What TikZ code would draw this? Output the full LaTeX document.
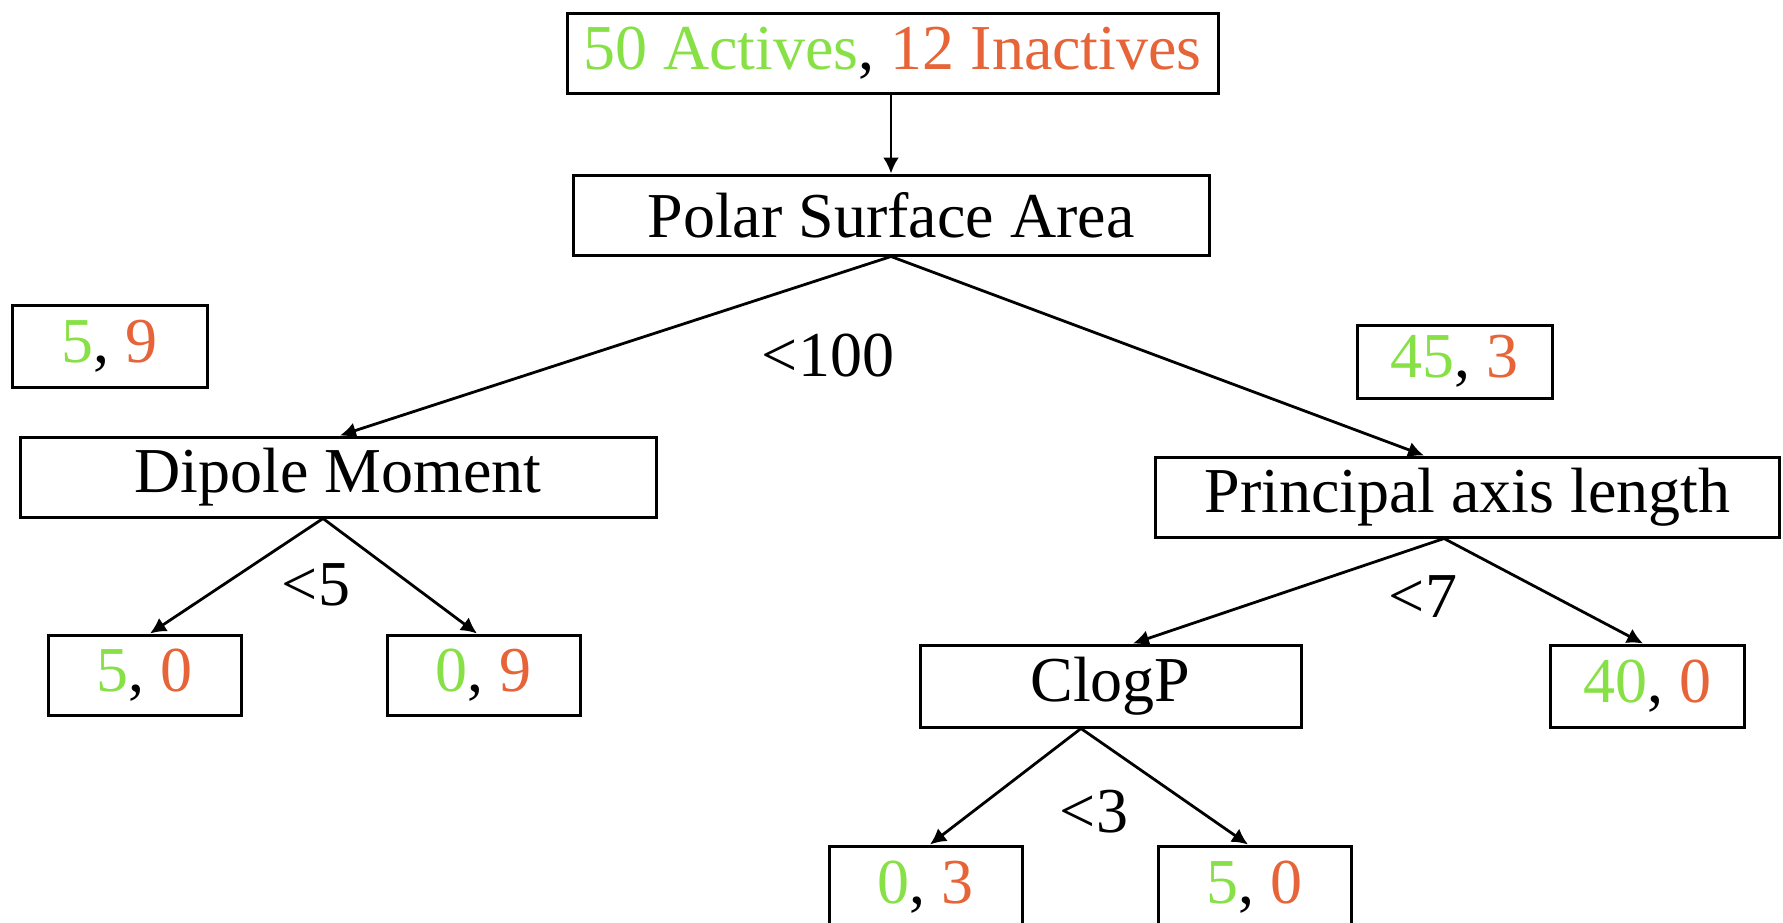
\documentclass[tikz,border=0pt]{standalone}
\usepackage{fontspec}
\setmainfont{Liberation Serif}
\usetikzlibrary{arrows.meta,calc}
\definecolor{grn}{RGB}{135,225,70}
\definecolor{org}{RGB}{230,100,55}
\tikzset{
  box/.style={draw=black,line width=1.5pt,rectangle,inner sep=0pt,font=\fontsize{32}{36}\selectfont},
  conn/.style={line width=1.4pt,-{Latex[length=8pt,width=8pt]}},
  cond/.style={font=\fontsize{32}{36}\selectfont,inner sep=0pt}
}
\newcommand{\gr}[1]{\textcolor{grn}{#1}}
\newcommand{\og}[1]{\textcolor{org}{#1}}
\begin{document}
\begin{tikzpicture}[x=0.5pt,y=-0.5pt]
\clip (0,0) rectangle (1783,922);
\fill[white] (0,0) rectangle (1783,922);
\node[box,minimum width=325.5pt,minimum height=40pt] (top) at (892.5,53) {\gr{50 Actives}, \og{12 Inactives}};
\node[box,minimum width=318pt,minimum height=40pt] (psa) at (891,215) {Polar Surface Area};
\node[box,minimum width=97.5pt,minimum height=41pt] (n59) at (109.5,346) {\gr{5}, \og{9}};
\node[box,minimum width=97.5pt,minimum height=36.5pt] (n453) at (1454.5,361.5) {\gr{45}, \og{3}};
\node[box,minimum width=318pt,minimum height=40pt] (dip) at (338,477) {Dipole Moment};
\node[box,minimum width=312pt,minimum height=40pt] (pal) at (1467.5,497) {Principal axis length};
\node[box,minimum width=96.5pt,minimum height=40pt] (n50) at (144.5,675) {\gr{5}, \og{0}};
\node[box,minimum width=96.5pt,minimum height=40pt] (n09) at (483.5,675) {\gr{0}, \og{9}};
\node[box,minimum width=190.5pt,minimum height=41pt] (clogp) at (1110.5,686) {ClogP};
\node[box,minimum width=97pt,minimum height=41pt] (n400) at (1647,686) {\gr{40}, \og{0}};
\node[box,minimum width=96.5pt,minimum height=41pt] (n03) at (925.5,887) {\gr{0}, \og{3}};
\node[box,minimum width=96.5pt,minimum height=41pt] (n50b) at (1254.5,887) {\gr{5}, \og{0}};
\node[cond] (c100) at (828,356) {<100};
\node[cond] (c5) at (316,585) {<5};
\node[cond] (c7) at (1423,597) {<7};
\node[cond] (c3) at (1094,812) {<3};
\draw[conn] (top.south -| psa.north) -- (psa.north);
\draw[conn] (psa.south) -- ($(dip.north)+(2,0)$);
\draw[conn] (psa.south) -- ($(pal.north)+(-43.5,0)$);
\draw[conn] ($(dip.south)+(-15,0)$) -- ($(n50.north)+(5.5,0)$);
\draw[conn] ($(dip.south)+(-15,0)$) -- ($(n09.north)+(-6.5,0)$);
\draw[conn] ($(pal.south)+(-23.5,0)$) -- ($(clogp.north)+(22.5,0)$);
\draw[conn] ($(pal.south)+(-23.5,0)$) -- ($(n400.north)+(-4,0)$);
\draw[conn] ($(clogp.south)+(-29.5,0)$) -- ($(n03.north)+(4.5,0)$);
\draw[conn] ($(clogp.south)+(-29.5,0)$) -- ($(n50b.north)+(-6.5,0)$);
\end{tikzpicture}
\end{document}
